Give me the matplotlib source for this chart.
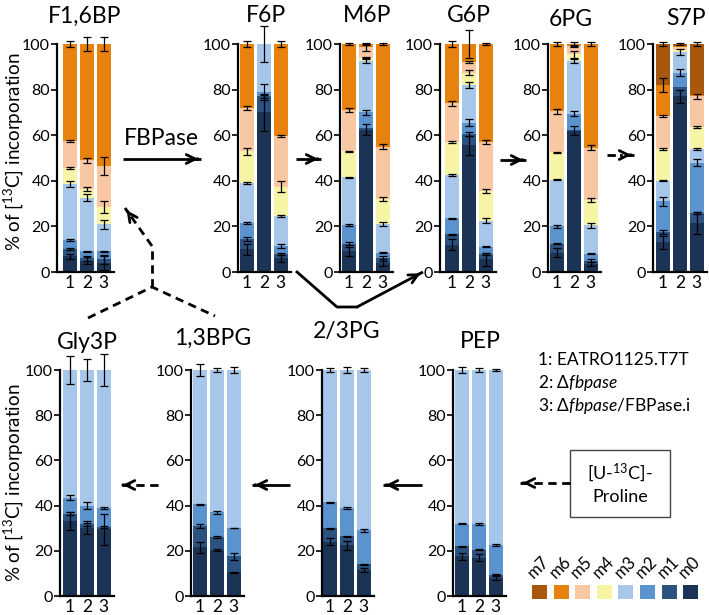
import numpy as np
import matplotlib.pyplot as plt
from matplotlib.patches import Rectangle

plt.rcParams['font.family'] = ['Lato', 'DejaVu Sans']
plt.rcParams['mathtext.fontset'] = 'custom'
plt.rcParams['mathtext.rm'] = 'Lato'
plt.rcParams['mathtext.it'] = 'Lato:italic'

# isotopologue colours m0 .. m7
iso_names = ['m0', 'm1', 'm2', 'm3', 'm4', 'm5', 'm6', 'm7']
iso_colors = ['#1b3455', '#2c5282', '#5b93cf', '#a7c7ea',
              '#f8f4a6', '#f9c8a2', '#e8820e', '#a9570f']
strains = ['1', '2', '3']

# cumulative % at the top of each isotopologue band (m0 first), per strain
f16bp_top = [[7, 10, 14, 38.5, 45.5, 57.5, 100],
             [5, 6, 9, 32.5, 36.5, 49, 100],
             [4, 5.5, 9, 21, 28.5, 46.5, 100]]
f16bp_sd = [[1.1, 0.5, 0.3, 1.2, 0.5, 0.5, 1.5],
            [1.5, 1, 0.3, 1.5, 1, 1, 3],
            [3, 2, 0.3, 2, 2.5, 4, 3]]

f6p_top = [[10, 14.5, 21.5, 39, 53, 72, 100],
           [70, 77, 79, 100, 100, 100, 100],
           [6, 8, 11.5, 24.5, 37.5, 59.5, 100]]
f6p_sd = [[2.5, 1, 0.5, 0.3, 1.5, 1, 1.5],
          [8, 0.7, 3.5, 8, 0, 0, 0],
          [1.5, 0.5, 1, 0.3, 2.5, 0.5, 1.5]]

m6p_top = [[9, 12.5, 20.5, 41.5, 53, 71, 100],
           [62.5, 63, 70, 92.5, 94, 98.5, 100],
           [4, 6, 8.5, 21, 32, 55, 100]]
m6p_sd = [[2, 0.5, 0.5, 0.2, 0.2, 1, 0.5],
          [2.5, 0, 1, 1, 0.3, 1.5, 0.5],
          [1.5, 1, 0.2, 0.8, 1, 1, 0.5]]

g6p_top = [[12, 16.5, 23.5, 42.5, 57, 74, 100],
           [55.5, 60.5, 65.5, 82, 87.5, 92, 100],
           [5.5, 8, 11, 22.5, 35.5, 57, 100]]
g6p_sd = [[2.5, 0.3, 0.2, 0.5, 0.5, 1, 1.5],
          [4, 1, 1.5, 1.5, 1, 0.5, 6],
          [3, 0.5, 0.2, 1, 0.8, 0.8, 0.5]]

pg6_top = [[8.5, 12.5, 20, 40.5, 52.5, 70.5, 100],
           [62, 62.5, 69.5, 92.5, 95.5, 99, 100],
           [3.5, 5, 8, 20.5, 31.5, 54.5, 100]]
pg6_sd = [[2, 0.3, 0.5, 0.2, 0.2, 1, 1],
          [2, 0, 1, 0.8, 1.5, 0.5, 1],
          [1, 0.5, 0.2, 1, 1, 1.2, 1]]

s7p_top = [[13, 17.5, 31, 40, 54, 68.5, 82, 100],
           [77, 81, 87.5, 96.5, 97.5, 98.5, 99, 100],
           [21.5, 26, 48, 54, 63.5, 77, 77.5, 100]]
s7p_sd = [[3, 1, 2, 0.2, 0.3, 0.5, 3, 1],
          [3, 0, 1.5, 1.5, 0, 0, 0, 0.5],
          [5, 0.5, 1.5, 0.5, 0.5, 1, 0, 1]]

gly3p_top = [[33, 36.5, 43.5, 100], [30, 32, 40, 100], [29.5, 30.5, 39, 100]]
gly3p_sd = [[4, 0.8, 1, 6], [2.5, 1, 1.5, 5], [7, 0.3, 0.5, 7]]

bpg13_top = [[21.5, 31, 40.5, 100], [20.5, 26, 37, 100], [10.5, 17.5, 30, 100]]
bpg13_sd = [[2.5, 0.8, 0.3, 2.5], [0.5, 0.5, 0.8, 1], [0.3, 1.5, 0.1, 1.5]]

pg23_top = [[24, 30, 41.5, 100], [22.5, 26.5, 39, 100], [11.5, 14, 29, 100]]
pg23_sd = [[1.5, 0.2, 0.3, 1], [2, 0.2, 0.3, 1.5], [0.7, 0.2, 0.5, 0.8]]

pep_top = [[17.5, 22, 32, 100], [17, 20.5, 32, 100], [8, 9.5, 22.5, 100]]
pep_sd = [[1.5, 0.3, 0.2, 1.5], [1.5, 0.2, 0.5, 1], [1, 0.3, 0.5, 0.5]]

legend_lines = ['1: EATRO1125.T7T', r'2: Δ$\mathit{fbpase}$',
                r'3: Δ$\mathit{fbpase}$/FBPase.i']

W, H = 709, 615
fig = plt.figure(figsize=(W / 100, H / 100), dpi=100)

# overlay in pixel coordinates for arrows and free text
ov = fig.add_axes([0, 0, 1, 1])
ov.set_xlim(0, W)
ov.set_ylim(H, 0)
ov.axis('off')

PX = 17.0  # pixels per bar slot


def panel(name, tops, sds, spine, bar_left, y0, y100, title_xy):
    right = bar_left + 2 * PX + 0.8 * PX + 3
    lo = 0.6 - (bar_left - spine) / PX
    hi = lo + (right - spine) / PX
    ax = fig.add_axes([spine / W, 1 - y0 / H, (right - spine) / W, (y0 - y100) / H])
    ax.set_xlim(lo, hi)
    ax.set_ylim(0, 100)
    for i, (top, sd) in enumerate(zip(tops, sds)):
        x = i + 1
        prev = 0
        for k, t in enumerate(top):
            h = t - prev
            if h > 0:
                ax.bar(x, h, 0.8, bottom=prev, color=iso_colors[k], linewidth=0)
            prev = t
        prev = 0
        for k, t in enumerate(top):
            if t - prev > 0 and sd[k] > 0:
                ax.errorbar(x, t, yerr=sd[k], color='black', lw=0.9,
                            capsize=3, capthick=0.9, clip_on=False)
            prev = t
    for s in ['top', 'right']:
        ax.spines[s].set_visible(False)
    for s in ['left', 'bottom']:
        ax.spines[s].set_linewidth(1.6)
    ax.set_yticks(range(0, 101, 20))
    ax.set_xticks([1, 2, 3])
    ax.set_xticklabels(strains)
    ax.tick_params(axis='y', length=4, width=1.2, labelsize=11.5, pad=1)
    ax.tick_params(axis='x', length=0, labelsize=12.5, pad=2)
    ax.patch.set_alpha(0)
    ov.text(title_xy[0], title_xy[1], name, fontsize=16.5, ha='center', va='baseline')
    return ax


top_y0, top_y100 = 272, 44
bot_y0, bot_y100 = 596, 370
panel('F1,6BP', f16bp_top, f16bp_sd, 57, 63, top_y0, top_y100, (85, 23))
panel('F6P', f6p_top, f6p_sd, 238, 240, top_y0, top_y100, (266, 22))
panel('M6P', m6p_top, m6p_sd, 340, 342, top_y0, top_y100, (367, 22))
panel('G6P', g6p_top, g6p_sd, 440, 445, top_y0, top_y100, (469, 22))
panel('6PG', pg6_top, pg6_sd, 548, 550, top_y0, top_y100, (571, 26))
panel('S7P', s7p_top, s7p_sd, 653, 656, top_y0, top_y100, (686, 25))
panel('Gly3P', gly3p_top, gly3p_sd, 60, 63, bot_y0, bot_y100, (87, 349))
panel('1,3BPG', bpg13_top, bpg13_sd, 191, 193, bot_y0, bot_y100, (213, 345))
panel('2/3PG', pg23_top, pg23_sd, 322, 323, bot_y0, bot_y100, (347, 338))
panel('PEP', pep_top, pep_sd, 453, 455, bot_y0, bot_y100, (480, 348))

ylab = r'% of [$^{13}$C] incorporation'
ov.text(13, 152, ylab, rotation=90, fontsize=13.5, ha='center', va='center')
ov.text(13, 483, ylab, rotation=90, fontsize=13.5, ha='center', va='center')

head = dict(arrowstyle='->', lw=2, color='black', mutation_scale=16)


def arrow(x0, y0, x1, y1, ls='-'):
    ov.plot([x0, x1], [y0, y1], color='black', lw=2, ls=ls, solid_capstyle='butt')
    d = np.hypot(x1 - x0, y1 - y0)
    ux, uy = (x1 - x0) / d, (y1 - y0) / d
    ov.annotate('', xy=(x1, y1), xytext=(x1 - 6 * ux, y1 - 6 * uy), arrowprops=head)


# FBPase step
ov.text(161, 145, 'FBPase', fontsize=16.5, ha='center', va='baseline')
arrow(123, 159, 201, 159)
arrow(296, 159, 321, 159)
arrow(500, 160, 526, 160)
arrow(607, 155, 634, 155, ls=(0, (3, 1.5, 1, 1.5)))
# F6P -> G6P by-pass
ov.plot([297, 337, 357], [272, 307, 307], color='black', lw=2)
arrow(357, 307, 423, 272)
# gluconeogenic branch into F1,6BP
ov.plot([88, 152, 215], [318, 287, 316], color='black', lw=2, ls=(0, (3, 2)))
ov.plot([152, 152], [287, 246], color='black', lw=2, ls=(0, (3, 2)))
arrow(152, 246, 125, 208, ls=(0, (3, 2)))
# bottom row
arrow(158, 485, 120, 485, ls=(0, (3, 2)))
arrow(290, 485, 252, 485)
arrow(422, 485, 383, 485)
arrow(570, 483, 520, 483, ls=(0, (3, 2)))

ov.add_patch(Rectangle((570, 450), 100, 67, fill=False, edgecolor='#444444', lw=1))
ov.text(620, 483, '[U-$^{13}$C]-\nProline', fontsize=13, ha='center', va='center',
        linespacing=1.4)

for j, line in enumerate(legend_lines):
    ov.text(538, 360 + 23 * j, line, fontsize=12.5, ha='left', va='center')

for j in range(8):
    k = 7 - j
    x = 532 + 21.6 * j
    ov.add_patch(Rectangle((x, 585), 15, 14, color=iso_colors[k], lw=0))
    fig.text((x + 2) / W, 1 - 579 / H, iso_names[k], rotation=45,
             rotation_mode='anchor', fontsize=12, ha='left', va='baseline')

fig.savefig('out.png', dpi=100)
